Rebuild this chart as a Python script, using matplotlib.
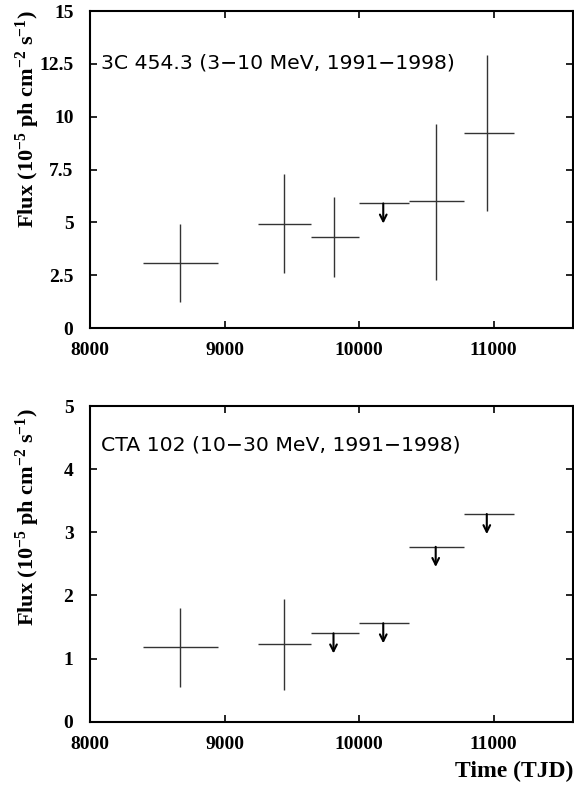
import matplotlib.pyplot as plt

plt.rcParams['mathtext.fontset'] = 'custom'
plt.rcParams['mathtext.rm'] = 'Liberation Serif:bold'
plt.rcParams['mathtext.default'] = 'rm'
plt.rcParams['font.family'] = 'Liberation Serif'
plt.rcParams['font.weight'] = 'bold'

# 3C 454.3, 3-10 MeV
top_x = [8670, 9440, 9810, 10570, 10950]
top_xlo = [8390, 9250, 9640, 10370, 10780]
top_xhi = [8950, 9640, 10000, 10780, 11150]
top_y = [3.1, 4.95, 4.3, 6.0, 9.25]
top_ylo = [1.25, 2.6, 2.4, 2.3, 5.55]
top_yhi = [4.95, 7.3, 6.2, 9.65, 12.9]
top_ul_x = [10180]
top_ul_xlo = [10000]
top_ul_xhi = [10370]
top_ul_y = [5.9]

# CTA 102, 10-30 MeV
bot_x = [8670, 9440]
bot_xlo = [8390, 9250]
bot_xhi = [8950, 9640]
bot_y = [1.18, 1.23]
bot_ylo = [0.55, 0.5]
bot_yhi = [1.8, 1.95]
bot_ul_x = [9810, 10180, 10570, 10950]
bot_ul_xlo = [9640, 10000, 10370, 10780]
bot_ul_xhi = [10000, 10370, 10780, 11150]
bot_ul_y = [1.4, 1.56, 2.77, 3.29]

top_yticks = [0, 2.5, 5, 7.5, 10, 12.5, 15]
top_yticklabels = ['0', '2.5', '5', '7.5', '10', '12.5', '15']
bot_yticks = [0, 1, 2, 3, 4, 5]
xticks = [8000, 9000, 10000, 11000]

err_col = '#333333'


def draw_panel(ax, x, xlo, xhi, y, ylo, yhi, ulx, ulxlo, ulxhi, uly, label, ylim, yticks, yticklabels, ty):
    ax.hlines(y, xlo, xhi, color=err_col, lw=1.0)
    ax.vlines(x, ylo, yhi, color=err_col, lw=1.0)
    ax.hlines(uly, ulxlo, ulxhi, color=err_col, lw=1.0)
    # upper limits: downward arrows
    for xi, yi in zip(ulx, uly):
        ax.annotate('', xy=(xi, yi), xytext=(0, -14.5), textcoords='offset points',
                    arrowprops=dict(arrowstyle='<-', lw=1.5, color='black',
                                    shrinkA=0, shrinkB=0, mutation_scale=12))
    ax.set_xlim(8000, 11590)
    ax.set_ylim(*ylim)
    ax.set_xticks(xticks)
    ax.set_yticks(yticks)
    ax.set_yticklabels(yticklabels)
    ax.tick_params(direction='in', length=5, width=1.2, top=True, right=True,
                   labelsize=14)
    ax.tick_params(axis='y', pad=12)
    ax.tick_params(axis='x', pad=10)
    for sp in ax.spines.values():
        sp.set_linewidth(1.5)
    ax.text(0.022, ty, label, transform=ax.transAxes, fontsize=14.7,
            family='DejaVu Sans', fontweight='normal', va='center', ha='left')


fig = plt.figure(figsize=(5.74, 7.87), dpi=100)
ax1 = fig.add_axes([0.157, 0.583, 0.841, 0.403])
ax2 = fig.add_axes([0.157, 0.083, 0.841, 0.401])

draw_panel(ax1, top_x, top_xlo, top_xhi, top_y, top_ylo, top_yhi,
           top_ul_x, top_ul_xlo, top_ul_xhi, top_ul_y,
           '3C 454.3 (3\u221210 MeV, 1991\u22121998)', (0, 15),
           top_yticks, top_yticklabels, 0.836)
draw_panel(ax2, bot_x, bot_xlo, bot_xhi, bot_y, bot_ylo, bot_yhi,
           bot_ul_x, bot_ul_xlo, bot_ul_xhi, bot_ul_y,
           'CTA 102 (10\u221230 MeV, 1991\u22121998)', (0, 5),
           bot_yticks, [str(t) for t in bot_yticks], 0.876)

ylab = 'Flux (10$^{-5}$ ph cm$^{-2}$ s$^{-1}$)'
fig.text(28 / 574, 0.848, ylab, rotation=90, ha='center', va='center',
         fontsize=16)
fig.text(28 / 574, 0.343, ylab, rotation=90, ha='center', va='center',
         fontsize=16)
fig.text(0.999, 1 - 771 / 787, 'Time (TJD)', ha='right', va='center',
         fontsize=17)

fig.savefig('out.png', dpi=100)
